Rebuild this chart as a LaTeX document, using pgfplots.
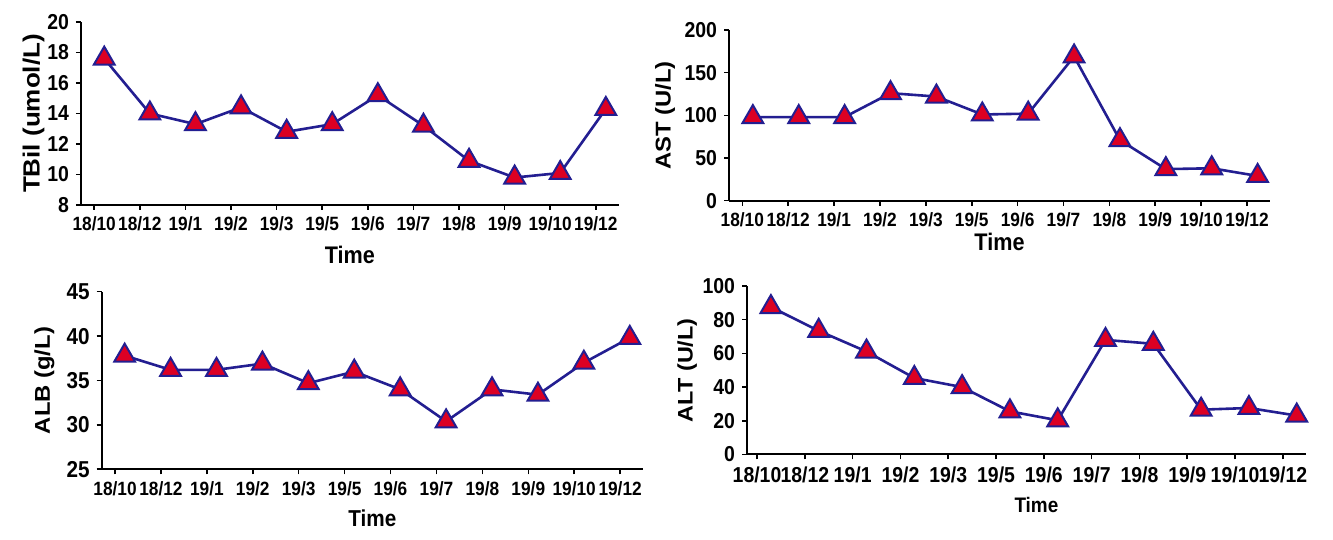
\documentclass[border=0pt]{standalone}
\usepackage{fontspec}
\setmainfont{Liberation Sans}
\newfontfamily\nar{Liberation Sans}[FakeStretch=0.9]
\usepackage{pgfplots}
\pgfplotsset{compat=1.18}
\definecolor{lineblue}{RGB}{35,30,145}
\definecolor{markred}{RGB}{220,0,35}

% common look of the four lab panels
\pgfplotsset{
  labpanel/.style={
    scale only axis, anchor=south west, clip=false,
    axis lines*=left, axis line style={line width=1pt},
    xmin=-0.29, xmax=11.5,
    xtick={0,...,11},
    xticklabels={18/10,18/12,19/1,19/2,19/3,19/5,19/6,19/7,19/8,19/9,19/10,19/12},
    tick align=outside, major tick length=2.5pt,
    tick style={line width=0.8pt, black},
    /pgf/number format/assume math mode=true,
    xticklabel style={font=\nar\bfseries\fontsize{9.6}{10}\selectfont},
    yticklabel style={font=\nar\bfseries\fontsize{10.8}{11}\selectfont},
    xlabel={Time},
    xlabel style={at={(axis description cs:0.5,0)}, anchor=center, yshift=-25pt,
      font=\nar\bfseries\fontsize{12}{13}\selectfont},
    ylabel style={anchor=center},
  },
  labline/.style={line width=1.3pt, color=lineblue, mark=triangle*,
    mark size=6pt, mark options={fill=markred, draw=lineblue, line width=1pt, solid}},
}

\begin{document}
\begin{tikzpicture}
\useasboundingbox (0,0) rectangle (666.5pt,270pt);

% TBil
\begin{axis}[labpanel, at={(40.5pt,167.5pt)}, width=268.8pt, height=91.5pt,
  ymin=8, ymax=20, ytick={8,10,...,20},
  ylabel={\scalebox{1}[0.9]{\bfseries TBil (umol/L)}},
  ylabel style={at={(axis description cs:-0.088,0.5)}, font=\fontsize{13}{14}\selectfont}]
\addplot[labline] coordinates {
  (0.22,17.6) (1.22,14.0) (2.22,13.3) (3.22,14.4) (4.22,12.8) (5.22,13.3)
  (6.22,15.2) (7.22,13.2) (8.22,10.9) (9.22,9.8) (10.22,10.1) (11.22,14.3)
};
\end{axis}

% AST
\begin{axis}[labpanel, at={(364.5pt,169.65pt)}, width=270.5pt, height=85.35pt,
  ymin=0, ymax=200, ytick={0,50,...,200},
  xlabel style={yshift=4.5pt},
  ylabel={\scalebox{1}[0.9]{\bfseries AST (U/L)}},
  ylabel style={at={(axis description cs:-0.118,0.5)}, font=\fontsize{11.9}{13}\selectfont}]
\addplot[labline] coordinates {
  (0.23,98) (1.23,98) (2.23,98) (3.23,126) (4.23,122) (5.23,101)
  (6.23,102) (7.23,169) (8.23,71) (9.23,37) (10.23,38) (11.23,29)
};
\end{axis}

% ALB
\begin{axis}[labpanel, at={(50.85pt,35.35pt)}, width=270.7pt, height=88.8pt,
  ymin=25, ymax=45, ytick={25,30,...,45},
  yticklabel style={font=\nar\bfseries\fontsize{11.5}{12}\selectfont},
  xlabel style={yshift=0.5pt, font=\nar\bfseries\fontsize{11.5}{12}\selectfont},
  ylabel={\scalebox{1}[0.9]{\bfseries ALB (g/L)}},
  ylabel style={at={(axis description cs:-0.106,0.5)}, font=\fontsize{11.9}{13}\selectfont}]
\addplot[labline] coordinates {
  (0.21,37.8) (1.21,36.2) (2.21,36.2) (3.21,36.9) (4.21,34.7) (5.21,36.0)
  (6.21,34.0) (7.21,30.4) (8.21,34.0) (9.21,33.4) (10.21,37.0) (11.21,39.8)
};
\end{axis}

% ALT
\begin{axis}[labpanel, at={(373.5pt,42.75pt)}, width=279.4pt, height=84.25pt,
  xmin=-0.21, xmax=11.48,
  ymin=0, ymax=100, ytick={0,20,...,100},
  xticklabel style={font=\nar\bfseries\fontsize{10.8}{11}\selectfont},
  xlabel style={xshift=5pt, font=\nar\bfseries\fontsize{10.5}{11}\selectfont},
  ylabel={\scalebox{1}[0.9]{\bfseries ALT (U/L)}},
  ylabel style={at={(axis description cs:-0.107,0.5)}, font=\fontsize{11.7}{13}\selectfont}]
\addplot[labline] coordinates {
  (0.29,87.5) (1.29,73.4) (2.29,61.1) (3.29,45.4) (4.29,40.0) (5.29,25.6)
  (6.29,20.3) (7.29,68.0) (8.29,65.7) (9.29,26.6) (10.29,27.6) (11.29,23.1)
};
\end{axis}
\end{tikzpicture}
\end{document}
